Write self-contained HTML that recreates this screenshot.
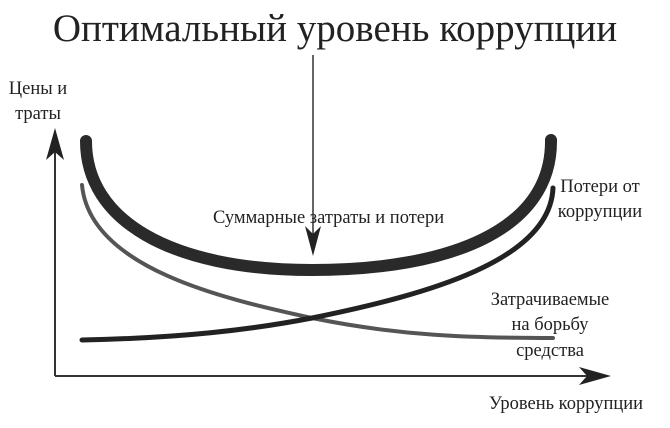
<!DOCTYPE html>
<html><head><meta charset="utf-8"><style>
body{margin:0;background:#fff;}
svg{display:block;}
text{font-family:"Liberation Serif",serif;fill:#222;}
</style></head><body>
<svg width="670" height="428" viewBox="0 0 670 428">
<text x="335" y="41" font-size="39" text-anchor="middle">Оптимальный уровень коррупции</text>
<!-- axes -->
<line x1="55" y1="376" x2="600" y2="376" stroke="#333" stroke-width="2"/>
<line x1="55" y1="376" x2="55" y2="140" stroke="#333" stroke-width="2"/>
<path d="M55 128 L46 160 L55 152 L64 160 Z" fill="#222"/>
<path d="M611 376 L579 367 L587 376 L579 385 Z" fill="#222"/>
<!-- curves -->
<path d="M86 141 C86 220 170 270 312 270 C450 270 552 230 551 140" fill="none" stroke="#2a2a2a" stroke-width="12" stroke-linecap="round"/>
<path d="M82 185 C90 270 230 300 312 318 C400 336 470 338 553 338" fill="none" stroke="#555" stroke-width="4" stroke-linecap="round"/>
<path d="M82 340 C180 338 250 330 312 318 C430 294 550 260 553 188" fill="none" stroke="#222" stroke-width="5" stroke-linecap="round"/>
<!-- pointer arrow -->
<line x1="313" y1="55" x2="313" y2="235" stroke="#333" stroke-width="1.5"/>
<path d="M313 256 L305 226 L313 234 L321 226 Z" fill="#222"/>
<text x="213" y="223" font-size="18.5">Суммарные затраты и потери</text>
<text x="600" y="192" font-size="18.5" text-anchor="middle">Потери от</text>
<text x="600" y="217" font-size="18.5" text-anchor="middle">коррупции</text>
<text x="550" y="305" font-size="18.5" text-anchor="middle">Затрачиваемые</text>
<text x="550" y="330" font-size="18.5" text-anchor="middle">на борьбу</text>
<text x="550" y="356" font-size="18.5" text-anchor="middle">средства</text>
<text x="566" y="409" font-size="18.5" text-anchor="middle">Уровень коррупции</text>
<text x="38" y="94" font-size="18.5" text-anchor="middle">Цены и</text>
<text x="38" y="119" font-size="18.5" text-anchor="middle">траты</text>
</svg>
</body></html>
